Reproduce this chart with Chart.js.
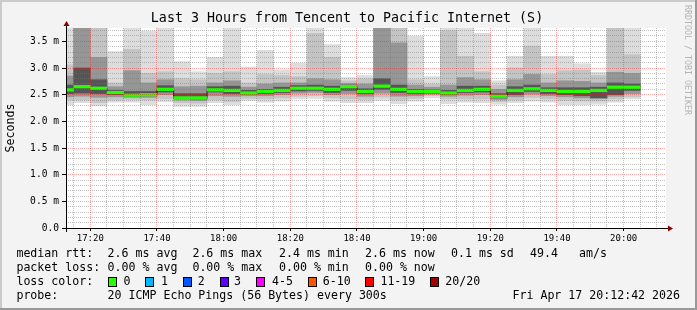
<!DOCTYPE html>
<html>
<head>
<meta charset="utf-8">
<script src="https://cdn.jsdelivr.net/npm/chart.js@4.4.1/dist/chart.umd.min.js"></script>
<style>
  html, body { margin: 0; padding: 0; background: #f3f3f3; }
</style>
</head>
<body>
<canvas id="myChart" width="697" height="310"></canvas>
<script>
// 5 minute rounds, 20 pings each (values in ms)
const intervalStart = ["17:10", "17:15", "17:20", "17:25", "17:30", "17:35", "17:40",
  "17:45", "17:50", "17:55", "18:00", "18:05", "18:10", "18:15", "18:20", "18:25",
  "18:30", "18:35", "18:40", "18:45", "18:50", "18:55", "19:00", "19:05", "19:10",
  "19:15", "19:20", "19:25", "19:30", "19:35", "19:40", "19:45", "19:50", "19:55", "20:00"];
const rttMin = [2.31, 2.35, 2.29, 2.36, 2.36, 2.31, 2.37, 2.28, 2.28, 2.35, 2.31, 2.39,
  2.36, 2.38, 2.42, 2.43, 2.38, 2.35, 2.35, 2.39, 2.33, 2.38, 2.44, 2.33, 2.36, 2.35,
  2.32, 2.35, 2.38, 2.36, 2.31, 2.31, 2.32, 2.36, 2.42];
const rttMax = [3.90, 3.90, 3.90, 3.31, 3.75, 3.69, 3.75, 3.12, 2.93, 3.20, 3.75, 3.02,
  3.33, 2.96, 3.09, 3.75, 3.44, 2.82, 2.86, 3.90, 3.90, 3.60, 2.84, 3.90, 3.75, 3.65,
  2.76, 3.22, 3.75, 3.22, 3.22, 3.08, 2.92, 3.90, 3.75];
const rttLo2 = [2.40, 2.40, 2.35, 2.40, 2.41, 2.40, 2.42, 2.35, 2.34, 2.40, 2.37, 2.43,
  2.42, 2.44, 2.47, 2.48, 2.44, 2.42, 2.41, 2.46, 2.40, 2.43, 2.48, 2.42, 2.42, 2.42,
  2.37, 2.40, 2.45, 2.42, 2.39, 2.38, 2.38, 2.42, 2.46];
const rttHi2 = [3.06, 3.90, 3.90, 2.72, 3.35, 2.90, 2.93, 2.80, 2.78, 2.90, 2.93, 2.72,
  2.88, 2.86, 2.84, 3.65, 3.20, 2.76, 2.80, 3.90, 3.90, 2.78, 2.70, 3.70, 3.22, 2.93,
  2.68, 3.00, 3.41, 2.88, 2.95, 2.96, 2.86, 3.90, 3.25];
const rttLo3 = [2.46, 2.47, 2.45, 2.46, 2.45, 2.45, 2.50, 2.40, 2.39, 2.48, 2.47, 2.48,
  2.48, 2.50, 2.53, 2.54, 2.50, 2.52, 2.47, 2.53, 2.47, 2.48, 2.51, 2.47, 2.49, 2.50,
  2.41, 2.46, 2.51, 2.48, 2.46, 2.44, 2.43, 2.47, 2.52];
const rttHi3 = [2.85, 3.90, 3.20, 2.65, 2.95, 2.72, 2.78, 2.65, 2.66, 2.72, 2.76, 2.64,
  2.70, 2.72, 2.72, 2.80, 2.78, 2.71, 2.70, 3.90, 3.47, 2.68, 2.64, 2.68, 2.82, 2.78,
  2.60, 2.78, 2.88, 2.72, 2.76, 2.75, 2.72, 2.92, 2.90];
const rttLo4 = [2.52, 2.53, 2.52, 2.50, 2.47, 2.48, 2.55, 2.43, 2.42, 2.55, 2.52, 2.51,
  2.52, 2.54, 2.57, 2.58, 2.54, 2.58, 2.52, 2.60, 2.54, 2.52, 2.53, 2.50, 2.54, 2.55,
  2.44, 2.50, 2.56, 2.52, 2.50, 2.48, 2.44, 2.50, 2.58];
const rttHi4 = [2.68, 3.00, 2.78, 2.58, 2.56, 2.56, 2.67, 2.52, 2.52, 2.65, 2.66, 2.58,
  2.60, 2.64, 2.67, 2.68, 2.66, 2.68, 2.61, 2.80, 2.68, 2.60, 2.59, 2.58, 2.66, 2.66,
  2.52, 2.65, 2.68, 2.63, 2.63, 2.63, 2.64, 2.72, 2.70];
const rttMedian = [2.59, 2.65, 2.62, 2.54, 2.49, 2.50, 2.60, 2.44, 2.44, 2.59, 2.58, 2.53,
  2.56, 2.58, 2.62, 2.62, 2.60, 2.65, 2.56, 2.66, 2.60, 2.56, 2.56, 2.53, 2.58, 2.60,
  2.47, 2.58, 2.61, 2.58, 2.56, 2.56, 2.58, 2.64, 2.64];

const xTickLabels = ["17:20", "17:40", "18:00", "18:20", "18:40", "19:00", "19:20", "19:40", "20:00"];
const yTickValues = [0, 0.5, 1.0, 1.5, 2.0, 2.5, 3.0, 3.5];
const yTickLabels = ["0.0", "0.5 m", "1.0 m", "1.5 m", "2.0 m", "2.5 m", "3.0 m", "3.5 m"];

const chartTitle = "Last 3 Hours from Tencent to Pacific Internet (S)";
const rttStats = ["2.6 ms avg", "2.6 ms max", "2.4 ms min", "2.6 ms now", "0.1 ms sd", "49.4", "am/s"];
const lossStats = ["0.00 % avg", "0.00 % max", "0.00 % min", "0.00 % now"];
const lossNames = ["0", "1", "2", "3", "4-5", "6-10", "11-19", "20/20"];
const lossColors = ["#26ff00", "#00b8ff", "#0059ff", "#5e00ff", "#ff00ff", "#ff5500", "#ff0000", "#a00000"];
const probeText = "20 ICMP Echo Pings (56 Bytes) every 300s";
const stampText = "Fri Apr 17 20:12:42 2026";

const MONO = "'DejaVu Sans Mono'";
const toMin = (s) => {
  const [h, m] = s.split(":").map(Number);
  return h * 60 + m;
};
const fmtMin = (v) => {
  const h = Math.floor(v / 60), m = Math.round(v - h * 60);
  return String(h).padStart(2, "0") + ":" + String(m).padStart(2, "0");
};
const xs = intervalStart.map((s) => toMin(s) + 2.5);
const band = (lo, hi) => xs.map((x, i) => ({ x: x, y: [lo[i], hi[i]] }));
const isMajorX = (v) => xTickLabels.includes(fmtMin(v));
const isMajorY = (v) => yTickValues.some((t) => Math.abs(t - v) < 1e-6);
const gridCol = (major) => (major ? "rgba(255,0,0,0.35)" : "rgba(120,120,120,0.45)");

const decor = {
  id: "decor",
  beforeDraw(chart) {
    const ctx = chart.ctx, a = chart.chartArea, w = chart.width, h = chart.height;
    ctx.save();
    ctx.fillStyle = "#f3f3f3";
    ctx.fillRect(0, 0, w, h);
    ctx.fillStyle = "#cbcbcb";
    ctx.fillRect(0, 0, w, 2);
    ctx.fillRect(0, 0, 2, h);
    ctx.fillStyle = "#999999";
    ctx.fillRect(0, h - 2, w, 2);
    ctx.fillRect(w - 2, 0, 2, h);
    ctx.fillStyle = "#ffffff";
    ctx.fillRect(a.left, a.top, a.right - a.left, a.bottom - a.top);
    ctx.restore();
  },
  afterDraw(chart) {
    const ctx = chart.ctx, a = chart.chartArea;
    ctx.save();
    // axes with arrows
    ctx.strokeStyle = "#000";
    ctx.lineWidth = 1;
    ctx.beginPath();
    ctx.moveTo(a.left - 4, a.bottom + 0.5);
    ctx.lineTo(a.right + 3, a.bottom + 0.5);
    ctx.moveTo(a.left + 0.5, a.bottom + 4);
    ctx.lineTo(a.left + 0.5, a.top - 3);
    ctx.stroke();
    ctx.fillStyle = "#8b0000";
    ctx.beginPath();
    ctx.moveTo(a.right + 7, a.bottom + 0.5);
    ctx.lineTo(a.right + 2, a.bottom - 2.5);
    ctx.lineTo(a.right + 2, a.bottom + 3.5);
    ctx.fill();
    ctx.beginPath();
    ctx.moveTo(a.left + 0.5, a.top - 7);
    ctx.lineTo(a.left - 2.5, a.top - 2);
    ctx.lineTo(a.left + 3.5, a.top - 2);
    ctx.fill();

    ctx.fillStyle = "#000";
    ctx.textBaseline = "middle";
    ctx.textAlign = "center";
    ctx.font = "13.3px " + MONO;
    ctx.fillText(chartTitle, 347, 19);

    ctx.textAlign = "left";
    ctx.font = "11.6px " + MONO;
    const rows = [253.5, 267.5, 281.5, 295.5];
    const cols = [107.6, 192.4, 279, 365, 451, 530, 579];
    ctx.fillText("median rtt:", 16.4, rows[0]);
    rttStats.forEach((s, i) => ctx.fillText(s, cols[i], rows[0]));
    ctx.fillText("packet loss:", 16.4, rows[1]);
    lossStats.forEach((s, i) => ctx.fillText(s, cols[i], rows[1]));
    ctx.fillText("loss color:", 16.4, rows[2]);
    const boxX = [108, 145.3, 182.7, 219.6, 256.4, 307.6, 365.3, 430];
    const nameX = [123.6, 161, 197.8, 234, 272, 322.7, 380.4, 445.3];
    lossNames.forEach((s, i) => {
      ctx.fillStyle = lossColors[i];
      ctx.fillRect(Math.round(boxX[i]), 277, 8, 9);
      ctx.strokeStyle = "#000";
      ctx.strokeRect(Math.round(boxX[i]) + 0.5, 277.5, 8, 9);
      ctx.fillStyle = "#000";
      ctx.fillText(s, nameX[i], rows[2]);
    });
    ctx.fillText("probe:", 16.4, rows[3]);
    ctx.fillText(probeText, 107.6, rows[3]);
    ctx.textAlign = "right";
    ctx.fillText(stampText, 680, rows[3]);

    // vertical credit
    ctx.translate(687.5, 5);
    ctx.rotate(Math.PI / 2);
    ctx.textAlign = "left";
    ctx.fillStyle = "#b4b4b4";
    ctx.font = "8.3px " + MONO;
    ctx.fillText("RRDTOOL / TOBI OETIKER", 0, 0);
    ctx.restore();
  },
};

const ctx = document.getElementById("myChart");
const chart = new Chart(ctx, {
  data: {
    datasets: [
      {
        type: "bar",
        label: "median",
        data: xs.map((x, i) => ({ x: x, y: [rttMedian[i] - 0.024, rttMedian[i] + 0.024] })),
        backgroundColor: "#26ff00",
        order: 0,
      },
      {
        type: "line",
        label: "median step",
        data: xs.map((x, i) => ({ x: x, y: rttMedian[i] })),
        borderColor: "#1a1a1a",
        borderWidth: 1,
        stepped: "middle",
        pointRadius: 0,
        order: 1,
      },
      { type: "bar", label: "smoke 4", data: band(rttLo4, rttHi4), backgroundColor: "#555555", order: 2 },
      { type: "bar", label: "smoke 3", data: band(rttLo3, rttHi3), backgroundColor: "#969696", order: 3 },
      { type: "bar", label: "smoke 2", data: band(rttLo2, rttHi2), backgroundColor: "#c4c4c4", order: 4 },
      { type: "bar", label: "smoke 1", data: band(rttMin, rttMax), backgroundColor: "#dddddd", order: 5 },
    ],
  },
  options: {
    responsive: false,
    animation: false,
    events: [],
    layout: { padding: { left: 0, right: 31, top: 28, bottom: 0 } },
    datasets: {
      bar: { grouped: false, barPercentage: 1, categoryPercentage: 1, borderWidth: 0 },
    },
    plugins: { legend: { display: false }, tooltip: { enabled: false }, title: { display: false } },
    scales: {
      x: {
        type: "linear",
        offset: false,
        min: toMin("17:12") + 42 / 60,
        max: toMin("20:12") + 42 / 60,
        afterBuildTicks: (s) => {
          const ticks = [];
          for (let t = Math.ceil(s.min / 5) * 5; t <= s.max; t += 5) ticks.push({ value: t });
          s.ticks = ticks;
        },
        afterFit: (s) => { s.height = 82; },
        ticks: {
          autoSkip: false,
          maxRotation: 0,
          padding: 2,
          color: "#000",
          font: { family: MONO, size: 9 },
          callback: (v) => (isMajorX(v) ? fmtMin(v) : ""),
        },
        grid: {
          z: 1,
          offset: false,
          tickLength: 3,
          color: (c) => gridCol(c.tick && isMajorX(c.tick.value)),
          tickColor: (c) => (c.tick && isMajorX(c.tick.value) ? "#000" : "rgba(0,0,0,0)"),
          tickBorderDash: [],
        },
        border: { display: false, dash: [1, 1] },
      },
      y: {
        min: 0,
        max: 3.75,
        afterBuildTicks: (s) => {
          const ticks = [];
          for (let i = 0; i <= 37; i++) ticks.push({ value: i / 10 });
          s.ticks = ticks;
        },
        afterFit: (s) => { s.width = 66; },
        ticks: {
          autoSkip: false,
          padding: 3,
          color: "#000",
          font: { family: MONO, size: 9.6 },
          callback: (v) => {
            const k = yTickValues.findIndex((t) => Math.abs(t - v) < 1e-6);
            return k >= 0 ? yTickLabels[k] : "";
          },
        },
        grid: {
          z: 1,
          tickLength: 4,
          color: (c) => gridCol(c.tick && isMajorY(c.tick.value)),
          tickColor: (c) => (c.tick && isMajorY(c.tick.value) ? "#000" : "rgba(0,0,0,0)"),
          tickBorderDash: [],
        },
        border: { display: false, dash: [1, 1] },
        title: {
          display: true,
          text: "Seconds",
          color: "#000",
          font: { family: MONO, size: 11.6 },
          padding: { top: 4, bottom: 0 },
        },
      },
    },
  },
  plugins: [decor],
});
</script>
</body>
</html>
